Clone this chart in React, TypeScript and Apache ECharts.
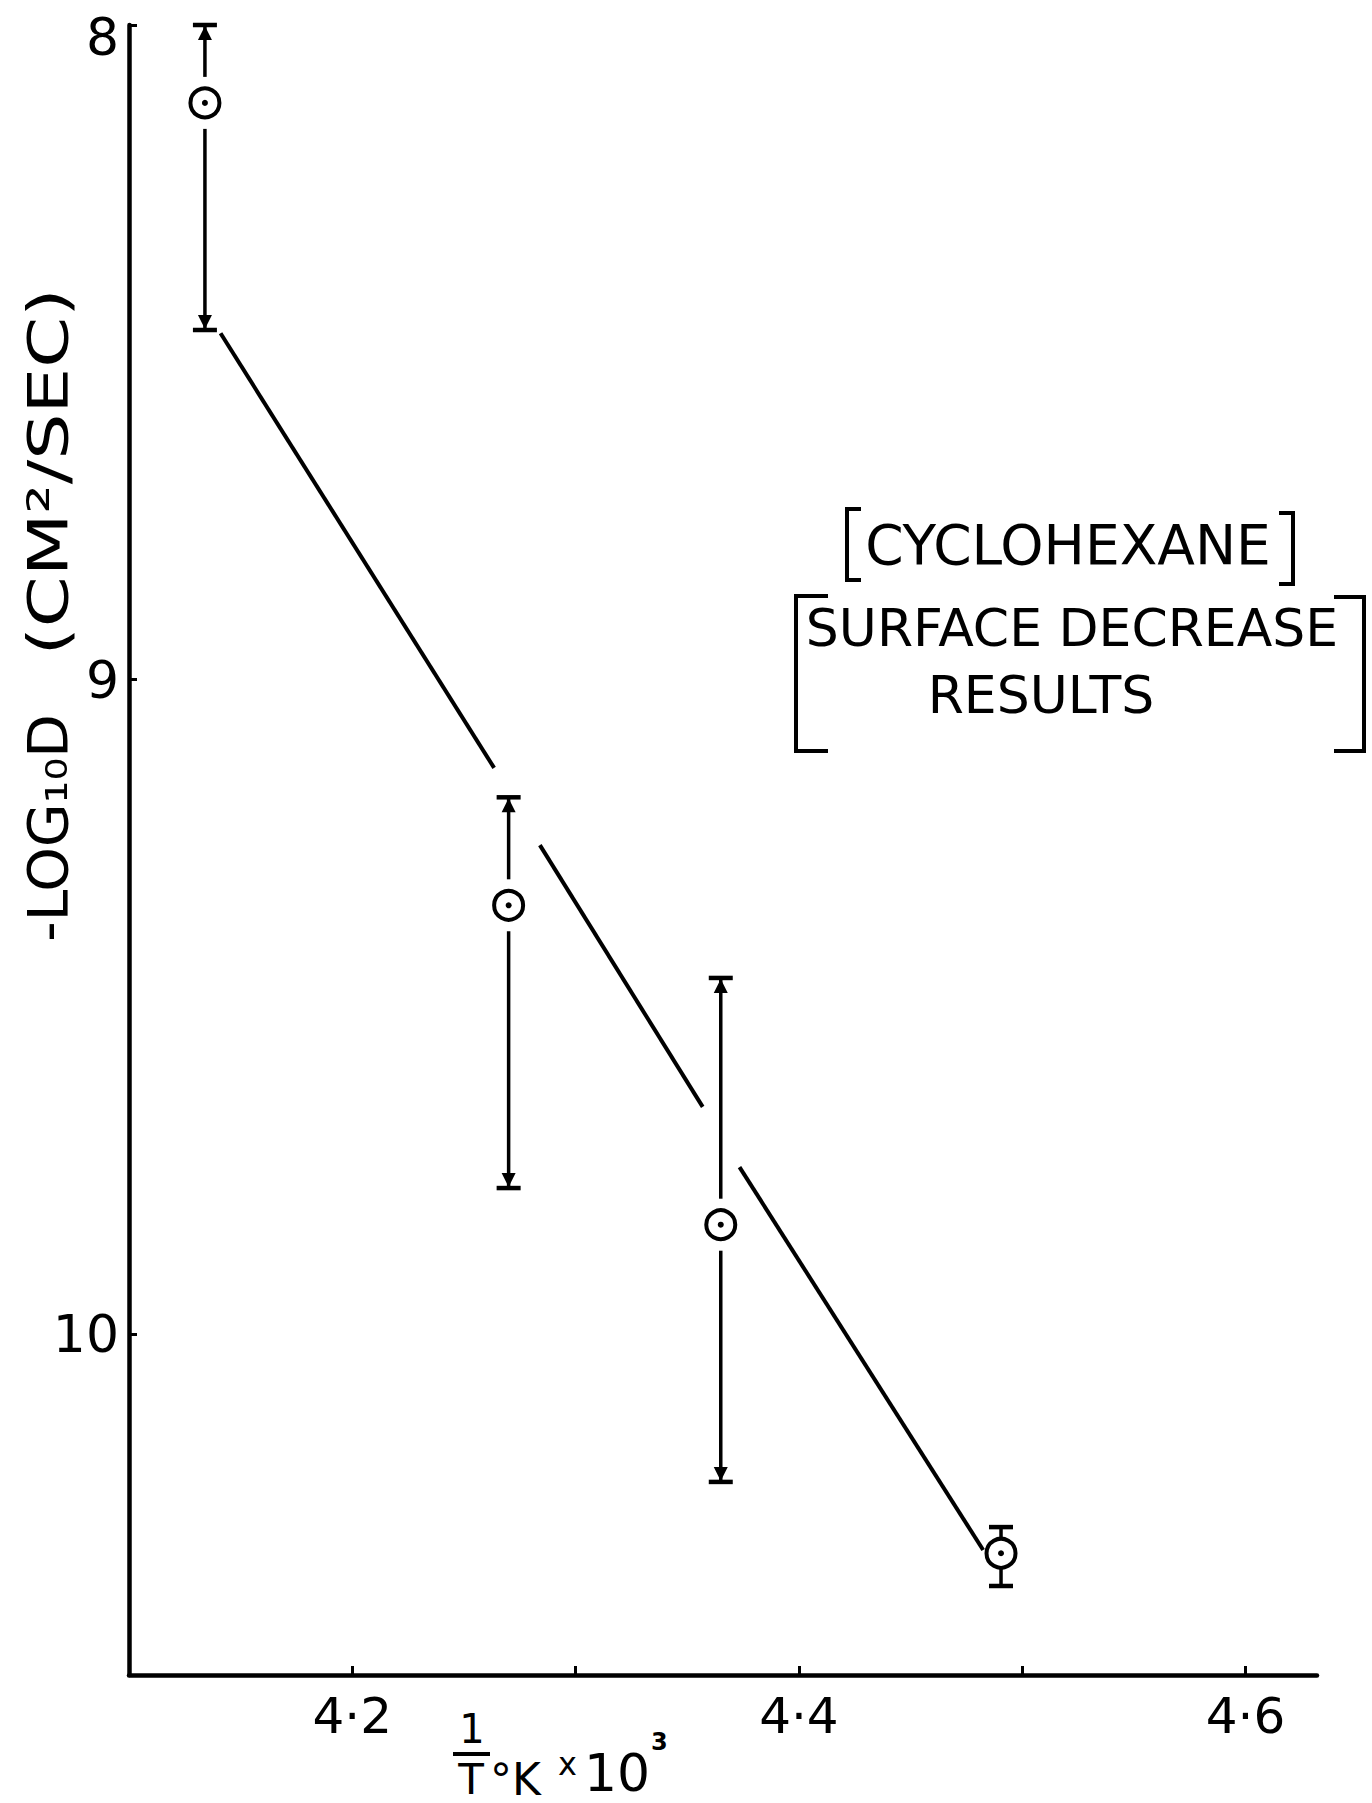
import React, { useEffect, useRef } from "react";
import * as echarts from "echarts";

// Reciprocal temperature (1/T °K x 10^3) of each measurement
const invTemp = [4.134, 4.27, 4.365, 4.4905];
// -log10 D (cm^2/sec) at each measurement
const negLogD = [8.119, 9.345, 9.833, 10.335];
// Limits of the spread for each measurement (smaller / larger -log10 D)
const limitUpper = [8.0, 9.18, 9.456, 10.295];
const limitLower = [8.466, 9.777, 10.226, 10.385];

// Drawn straight line, broken where it crosses the vertical range bars
const fitSegments = [
  [[4.141, 8.471], [4.2635, 9.135]],
  [[4.284, 9.253], [4.3569, 9.653]],
  [[4.3734, 9.745], [4.4825, 10.33]],
];

const xLabelled = [4.2, 4.4, 4.6];
const yLabelled = [8, 9, 10];

const FONT = "DejaVu Sans";
const INK = "#000";

function rangeBar(params: any, api: any) {
  const x = api.value(0);
  const c = api.coord([x, api.value(1)]);
  const t = api.coord([x, api.value(2)]);
  const b = api.coord([x, api.value(3)]);
  const short = b[1] - t[1] < 90;
  const gap = short ? 14 : 26;
  const stem = { stroke: INK, lineWidth: 3.5 };
  const cap = { stroke: INK, lineWidth: 4.5 };
  const half = 12;
  const children: any[] = [];
  if (c[1] - gap > t[1]) {
    children.push({ type: "line", shape: { x1: c[0], y1: t[1], x2: c[0], y2: c[1] - gap }, style: stem });
  }
  if (c[1] + gap < b[1]) {
    children.push({ type: "line", shape: { x1: c[0], y1: c[1] + gap, x2: c[0], y2: b[1] }, style: stem });
  }
  children.push({ type: "line", shape: { x1: c[0] - half, y1: t[1], x2: c[0] + half, y2: t[1] }, style: cap });
  children.push({ type: "line", shape: { x1: c[0] - half, y1: b[1], x2: c[0] + half, y2: b[1] }, style: cap });
  if (!short) {
    children.push({
      type: "polygon",
      shape: { points: [[c[0], t[1] + 1], [c[0] - 7, t[1] + 15], [c[0] + 7, t[1] + 15]] },
      style: { fill: INK },
    });
    children.push({
      type: "polygon",
      shape: { points: [[c[0], b[1] - 1], [c[0] - 7, b[1] - 15], [c[0] + 7, b[1] - 15]] },
      style: { fill: INK },
    });
  }
  return { type: "group", children };
}

function bracket(x: number, y1: number, y2: number, arm: number) {
  return {
    type: "polyline",
    shape: { points: [[x + arm, y1], [x, y1], [x, y2], [x + arm, y2]] },
    style: { stroke: INK, lineWidth: 4, fill: "none" },
  };
}

function text(x: number, y: number, s: string, size: number, extra: any = {}) {
  const { style, ...rest } = extra;
  return {
    type: "text",
    x,
    y,
    ...rest,
    style: {
      text: s,
      fontSize: size,
      fontFamily: FONT,
      fill: INK,
      align: "center",
      verticalAlign: "middle",
      lineHeight: size,
      ...(style || {}),
    },
  };
}

export default function App() {
  const ref = useRef<HTMLDivElement>(null);

  useEffect(() => {
    if (!ref.current) return;
    const chart = echarts.init(ref.current, undefined, { renderer: "svg" });

    const points = invTemp.map((x, i) => [x, negLogD[i]]);
    const bars = invTemp.map((x, i) => [x, negLogD[i], limitUpper[i], limitLower[i]]);

    const lineSeries = fitSegments.map((seg) => ({
      type: "line",
      data: seg,
      symbol: "none",
      silent: true,
      z: 2,
      lineStyle: { color: INK, width: 4 },
    }));

    chart.setOption({
      animation: false,
      backgroundColor: "#fff",
      grid: {
        left: 129,
        top: 25,
        right: 55,
        bottom: 128,
        containLabel: false,
        outerBoundsMode: "none",
      },
      xAxis: {
        type: "value",
        min: 4.1,
        max: 4.632,
        interval: 0.1,
        splitLine: { show: false },
        axisLine: { onZero: false, lineStyle: { color: INK, width: 4.5 } },
        axisTick: { show: true, inside: true, length: 9, lineStyle: { color: INK, width: 3 } },
        axisLabel: {
          color: INK,
          fontFamily: FONT,
          fontSize: 50,
          lineHeight: 50,
          margin: 16,
          showMinLabel: false,
          showMaxLabel: false,
          formatter: (v: number) => {
            const hit = xLabelled.find((t) => Math.abs(t - v) < 1e-6);
            return hit === undefined ? "" : hit.toFixed(1).replace(".", "·");
          },
        },
      },
      yAxis: {
        type: "value",
        inverse: true,
        min: 8,
        max: 10.521,
        interval: 1,
        splitLine: { show: false },
        axisLine: { onZero: false, lineStyle: { color: INK, width: 4.5 } },
        axisTick: { show: true, inside: true, length: 8, lineStyle: { color: INK, width: 3 } },
        axisLabel: {
          color: INK,
          fontFamily: FONT,
          fontSize: 52,
          lineHeight: 40,
          margin: 10,
          showMaxLabel: false,
          formatter: (v: number) => {
            const hit = yLabelled.find((t) => Math.abs(t - v) < 1e-6);
            if (hit === undefined) return "";
            // the top label sits just below the end of the axis
            return hit === 8 ? "{top|8}" : String(hit);
          },
          rich: {
            top: {
              fontSize: 52,
              fontFamily: FONT,
              color: INK,
              lineHeight: 52,
              padding: [24, 0, 0, 0],
            },
          },
        },
      },
      series: [
        ...lineSeries,
        {
          type: "custom",
          data: bars,
          encode: { x: 0, y: [1, 2, 3] },
          renderItem: rangeBar,
          silent: true,
          z: 3,
        },
        {
          type: "scatter",
          data: points,
          symbol: "circle",
          symbolSize: 29,
          silent: true,
          z: 4,
          itemStyle: { color: "#fff", borderColor: INK, borderWidth: 4, opacity: 1 },
        },
        {
          type: "scatter",
          data: points,
          symbol: "circle",
          symbolSize: 6,
          silent: true,
          z: 5,
          itemStyle: { color: INK, opacity: 1 },
        },
      ],
      graphic: [
        // y axis title, in two runs
        text(48, 828, "-LOG₁₀D", 55, { rotation: Math.PI / 2, scaleX: 1.03 }),
        text(48, 472, "(CM²/SEC)", 56, { rotation: Math.PI / 2, scaleX: 1.3 }),
        // x axis title: 1/T °K x 10³
        text(472, 1729, "1", 40, { style: { lineHeight: 32 } }),
        {
          type: "line",
          shape: { x1: 453, y1: 1754, x2: 490, y2: 1754 },
          style: { stroke: INK, lineWidth: 4 },
        },
        text(471, 1779, "T", 42, { style: { lineHeight: 36 } }),
        text(490, 1779, "°K", 44, { style: { align: "left", lineHeight: 36 } }),
        text(558, 1764, "x", 32, { style: { align: "left" } }),
        text(584, 1773, "10", 52, { style: { align: "left", lineHeight: 44 } }),
        text(651, 1742, "3", 24, { style: { align: "left", fontWeight: "bold" } }),
        // annotation
        text(1068, 545, "CYCLOHEXANE", 55),
        bracket(847, 509, 580, 14),
        bracket(1293, 513, 584, -14),
        text(1072, 628, "SURFACE DECREASE", 52),
        text(1041, 695, "RESULTS", 52),
        bracket(796, 596, 751, 32),
        bracket(1364, 597, 751, -30),
      ],
    });

    return () => chart.dispose();
  }, []);

  return (
    <div
      ref={ref}
      style={{ position: "fixed", left: 0, top: 0, width: 1372, height: 1803, background: "#fff" }}
    />
  );
}
